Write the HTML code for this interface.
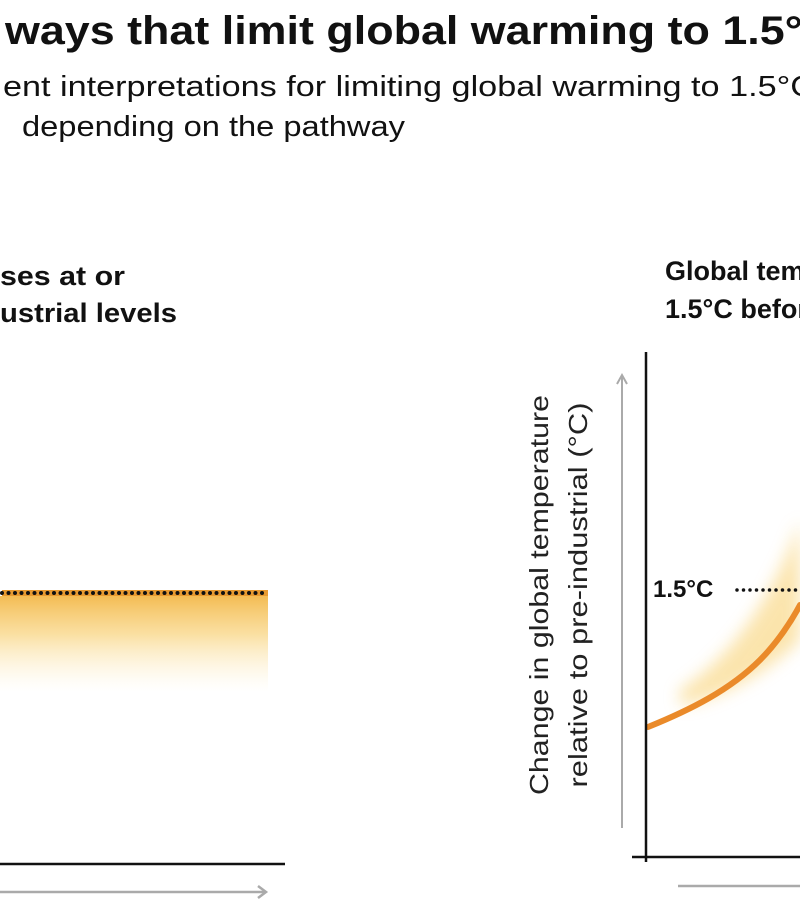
<!DOCTYPE html>
<html><head><meta charset="utf-8"><style>
html,body{margin:0;padding:0;background:#fff;}
svg{display:block;font-family:"Liberation Sans",Arial,sans-serif;}
</style></head><body>
<svg width="800" height="922" viewBox="0 0 800 922" xmlns="http://www.w3.org/2000/svg">
<defs>
<linearGradient id="lg" x1="0" y1="0" x2="0" y2="1">
<stop offset="0" stop-color="#f3b84a" stop-opacity="0.95"/>
<stop offset="0.4" stop-color="#f8d27a" stop-opacity="0.7"/>
<stop offset="1" stop-color="#fdf0cc" stop-opacity="0"/>
</linearGradient>
<filter id="bl" x="-50%" y="-50%" width="200%" height="200%"><feGaussianBlur stdDeviation="8"/></filter>
</defs>
<text x="5" y="44" font-size="40" font-weight="bold" textLength="830" lengthAdjust="spacingAndGlyphs" fill="#111">ways that limit global warming to 1.5°C</text>
<text x="3" y="96" font-size="29" textLength="812" lengthAdjust="spacingAndGlyphs" fill="#111">ent interpretations for limiting global warming to 1.5°C</text>
<text x="22" y="136" font-size="29" textLength="383" lengthAdjust="spacingAndGlyphs" fill="#111">depending on the pathway</text>
<text x="0" y="285" font-size="27" font-weight="bold" textLength="125" lengthAdjust="spacingAndGlyphs" fill="#111">ses at or</text>
<text x="0" y="322" font-size="27" font-weight="bold" textLength="177" lengthAdjust="spacingAndGlyphs" fill="#111">ustrial levels</text>
<text x="665" y="280" font-size="27" font-weight="bold" fill="#111">Global temperature</text>
<text x="665" y="318" font-size="27" font-weight="bold" fill="#111">1.5°C before</text>
<!-- left panel -->
<rect x="0" y="596" width="268" height="96" fill="url(#lg)"/>
<line x1="2" y1="593" x2="268" y2="593" stroke="#e89a30" stroke-width="6"/>
<line x1="2" y1="593" x2="268" y2="593" stroke="#111" stroke-width="4" stroke-dasharray="0 6.5" stroke-linecap="round"/>
<line x1="0" y1="864" x2="285" y2="864" stroke="#111" stroke-width="2.5"/>
<line x1="0" y1="892" x2="265" y2="892" stroke="#aaa" stroke-width="2.5"/>
<polyline points="258,886 266,892 258,898" fill="none" stroke="#aaa" stroke-width="2.5"/>
<!-- right panel -->
<line x1="622" y1="376" x2="622" y2="828" stroke="#aaa" stroke-width="2"/>
<polyline points="617,384 622,375 627,384" fill="none" stroke="#aaa" stroke-width="2"/>
<text transform="translate(548,595) rotate(-90)" text-anchor="middle" font-size="26" textLength="400" lengthAdjust="spacingAndGlyphs" fill="#222">Change in global temperature</text>
<text transform="translate(587,595) rotate(-90)" text-anchor="middle" font-size="26" textLength="385" lengthAdjust="spacingAndGlyphs" fill="#222">relative to pre-industrial (°C)</text>
<path d="M680,690 C720,665 770,610 800,520 L800,640 C770,670 720,700 680,705 Z" fill="#f8cf6a" opacity="0.55" filter="url(#bl)"/>
<path d="M648,727 C690,710 730,690 760,660 C778,642 792,620 800,605" fill="none" stroke="#ea8a2a" stroke-width="6" stroke-linecap="round"/>
<line x1="646" y1="352" x2="646" y2="862" stroke="#111" stroke-width="2.5"/>
<line x1="632" y1="857" x2="800" y2="857" stroke="#111" stroke-width="2.5"/>
<line x1="678" y1="886" x2="800" y2="886" stroke="#aaa" stroke-width="2.5"/>
<text x="653" y="597" font-size="24" font-weight="bold" fill="#111">1.5°C</text>
<line x1="737" y1="590" x2="800" y2="590" stroke="#111" stroke-width="3.5" stroke-dasharray="0 6.5" stroke-linecap="round"/>
</svg>
</body></html>
